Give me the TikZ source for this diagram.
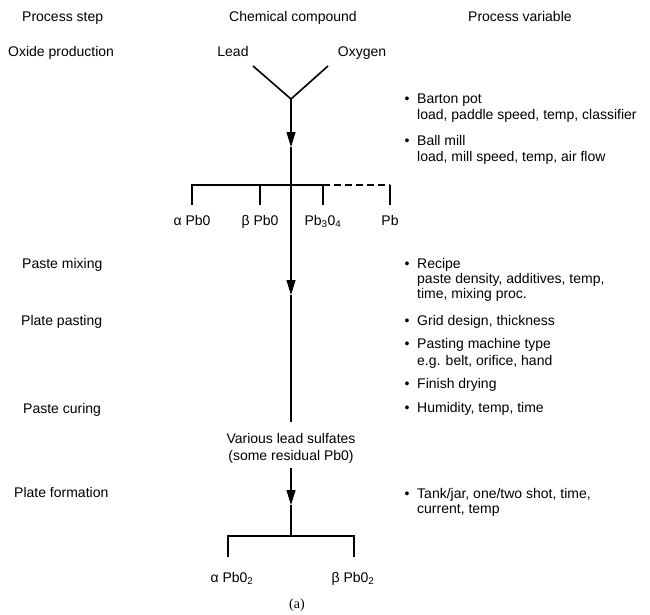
\documentclass[tikz,border=0pt]{standalone}
\usepackage{fontspec}
\setmainfont{Liberation Sans}
\newfontfamily\capfont{Liberation Serif}
\usetikzlibrary{arrows.meta}
\begin{document}
\begin{tikzpicture}[x=1pt,y=-1pt,
  font=\fontsize{14}{17}\selectfont,
  txt/.style={inner sep=0pt, anchor=base west},
  ctr/.style={inner sep=0pt, anchor=base},
  bul/.style={inner sep=0pt, anchor=base},
  arm/.style={line width=1.6pt},
  vline/.style={line width=1.1pt},
  bar/.style={line width=1.8pt},
  tip/.style={-{Triangle[length=15pt,width=9pt]}},
  dashbar/.style={line width=1.8pt, dash pattern=on 7pt off 4pt}]
\useasboundingbox (0,0) rectangle (650,615);
% headers
\node[txt] (h1) at (22,22) {Process step};
\node[ctr] (h2) at (293,22) {Chemical compound};
\node[txt] (h3) at (468,22) {Process variable};
% left column
\node[txt] (s1) at (8,57) {Oxide production};
\node[txt] (s2) at (22,268) {Paste mixing};
\node[txt] (s3) at (21,325) {Plate pasting};
\node[txt] (s4) at (23,413) {Paste curing};
\node[txt] (s5) at (14,497) {Plate formation};
% compounds
\node[ctr] (lead) at (233,57) {Lead};
\node[ctr] (oxy) at (362,57) {Oxygen};
\coordinate (la) at (253,66);
\coordinate (oa) at (328,66);
\coordinate (apex) at (291,99);
\draw[arm] (la) -- (apex) -- (oa);
\coordinate (t1) at (291,147);
\coordinate (b1) at (291,185);
\draw[vline,tip] (apex) -- (t1);
\draw[vline] (t1) -- (b1);
% bar 1
\coordinate (k1) at (192,185);
\coordinate (k2) at (260,185);
\coordinate (k3) at (323,185);
\coordinate (k4) at (390,185);
\coordinate (k1b) at (192,205);
\coordinate (k2b) at (260,205);
\coordinate (k3b) at (323,205);
\coordinate (k4b) at (390,205);
\draw[bar] (k1b) -- (k1) -- (k3) -- (k3b);
\draw[bar] (k2) -- (k2b);
\draw[dashbar] (k3) -- (k4);
\draw[bar] (k4) -- (k4b);
\node[ctr] (c1) at (192,225) {α Pb0};
\node[ctr] (c2) at (260,225) {β Pb0};
\node[ctr] (c3) at (323,225) {Pb\textsubscript{3}0\textsubscript{4}};
\node[ctr] (c4) at (390,225) {Pb};
% main line down
\coordinate (t2) at (291,295);
\draw[vline,tip] (b1) -- (t2);
\node[ctr] (sulf) at (291,443) {Various lead sulfates};
\node[ctr] (resid) at (291,460) {(some residual Pb0)};
\coordinate (v1) at (291,422);
\draw[vline] (t2) -- (v1);
\coordinate (v2) at (291,468);
\coordinate (t3) at (291,505);
\coordinate (b2) at (291,536);
\draw[vline,tip] (v2) -- (t3);
\draw[vline] (t3) -- (b2);
% bar 2
\coordinate (m1) at (228,536);
\coordinate (m2) at (354,536);
\coordinate (m1b) at (228,557);
\coordinate (m2b) at (354,557);
\draw[bar] (m1b) -- (m1) -- (m2) -- (m2b);
\node[ctr] (d1) at (232,582) {α Pb0\textsubscript{2}};
\node[ctr] (d2) at (353,582) {β Pb0\textsubscript{2}};
\node[ctr,font=\capfont\fontsize{14}{17}\selectfont] (cap) at (297,608) {(a)};
% right column
\node[bul] (p1) at (407,103) {•};
\node[txt] (v1a) at (417,103) {Barton pot};
\node[txt] (v1b) at (417,120) {load, paddle speed, temp, classifier};
\node[bul] (p2) at (407,145) {•};
\node[txt] (v2a) at (417,145) {Ball mill};
\node[txt] (v2b) at (417,161) {load, mill speed, temp, air flow};
\node[bul] (p3) at (407,268) {•};
\node[txt] (v3a) at (417,268) {Recipe};
\node[txt] (v3b) at (417,283) {paste density, additives, temp,};
\node[txt] (v3c) at (417,298) {time, mixing proc.};
\node[bul] (p4) at (407,325) {•};
\node[txt] (v4a) at (417,325) {Grid design, thickness};
\node[bul] (p5) at (407,348) {•};
\node[txt] (v5a) at (417,348) {Pasting machine type};
\node[txt] (v5b) at (417,365) {e.g. belt, orifice, hand};
\node[bul] (p6) at (407,388) {•};
\node[txt] (v6a) at (417,388) {Finish drying};
\node[bul] (p7) at (407,412) {•};
\node[txt] (v7a) at (417,412) {Humidity, temp, time};
\node[bul] (p8) at (407,498) {•};
\node[txt] (v8a) at (417,498) {Tank/jar, one/two shot, time,};
\node[txt] (v8b) at (417,513) {current, temp};
\end{tikzpicture}
\end{document}
